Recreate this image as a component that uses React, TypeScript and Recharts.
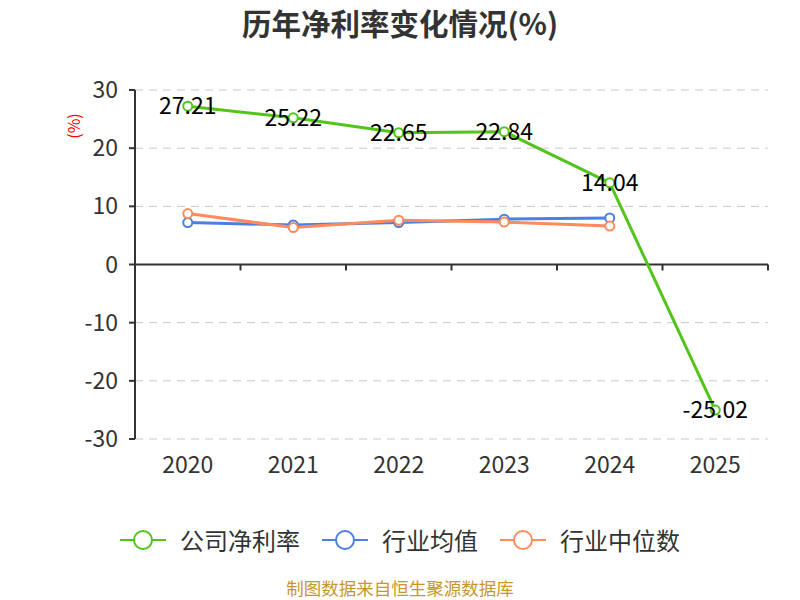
import React from 'react';
import {
  LineChart,
  Line,
  XAxis,
  YAxis,
  CartesianGrid,
  ReferenceLine,
  LabelList,
} from 'recharts';

const years = ['2020', '2021', '2022', '2023', '2024', '2025'];
const companyRate = [27.21, 25.22, 22.65, 22.84, 14.04, -25.02];
const industryAvg = [7.2, 6.8, 7.2, 7.8, 8.0, null];
const industryMedian = [8.75, 6.35, 7.6, 7.3, 6.6, null];
const yTicks = [-30, -20, -10, 0, 10, 20, 30];

const SERIES = [
  { key: 'company', name: '公司净利率', color: '#52c41a' },
  { key: 'avg', name: '行业均值', color: '#4b7fe0' },
  { key: 'median', name: '行业中位数', color: '#ff8a5b' },
];

const FONT = "'Noto Sans CJK SC', 'Noto Sans', sans-serif";

const data = years.map((year, i) => ({
  year,
  company: companyRate[i],
  avg: industryAvg[i],
  median: industryMedian[i],
}));

// zero line with tick marks between categories
function ZeroAxis(props: any) {
  const { x1, x2, y1 } = props;
  const n = years.length;
  const step = (x2 - x1) / n;
  const marks = [];
  for (let i = 0; i <= n; i++) {
    const x = x1 + step * i;
    marks.push(<line key={i} x1={x} x2={x} y1={y1} y2={y1 + 6} stroke="#333" strokeWidth={2} />);
  }
  return (
    <g>
      <line x1={x1} x2={x2} y1={y1} y2={y1} stroke="#333" strokeWidth={2} />
      {marks}
    </g>
  );
}

function ValueLabel(props: any) {
  const { x, y, width, value } = props;
  if (value == null) return null;
  const cx = x + (width || 0) / 2;
  return (
    <text x={cx} y={y} dy={8} textAnchor="middle" fontSize={23} fill="#000" fontFamily={FONT}>
      {value.toFixed(2)}
    </text>
  );
}

function LegendIcon({ color }: { color: string }) {
  return (
    <svg width={46} height={24} style={{ marginRight: 14 }}>
      <line x1={0} x2={46} y1={12} y2={12} stroke={color} strokeWidth={2} />
      <circle cx={23} cy={12} r={9} fill="#fff" stroke={color} strokeWidth={2} />
    </svg>
  );
}

export default function App() {
  return (
    <div style={{ position: 'absolute', left: 0, top: 0, width: 800, height: 600, background: '#fff', fontFamily: FONT }}>
      <div style={{ position: 'absolute', top: 1, width: 800, textAlign: 'center', fontSize: 29.5, fontWeight: 'bold', color: '#333' }}>
        历年净利率变化情况(%)
      </div>
      <div
        style={{
          position: 'absolute',
          left: 57,
          top: 114,
          width: 32,
          textAlign: 'center',
          fontSize: 16,
          color: 'red',
          transform: 'rotate(-90deg)',
        }}
      >
        (%)
      </div>
      <LineChart width={800} height={600} data={data} margin={{ top: 90, right: 32, left: 0, bottom: 121 }}>
        <CartesianGrid horizontal vertical={false} stroke="#c8c8c8" strokeDasharray="8 6" />
        <XAxis
          dataKey="year"
          scale="band"
          axisLine={false}
          tickLine={false}
          height={40}
          tickMargin={12}
          tick={{ fontSize: 23, fill: '#333', fontFamily: FONT }}
        />
        <YAxis
          width={135}
          domain={[-30, 30]}
          ticks={yTicks}
          interval={0}
          axisLine={{ stroke: '#333', strokeWidth: 2 }}
          tickLine={{ stroke: '#333', strokeWidth: 2 }}
          tickSize={6}
          tickMargin={11}
          tick={{ fontSize: 23, fill: '#333', fontFamily: FONT }}
        />
        <ReferenceLine y={0} shape={<ZeroAxis />} />
        <Line
          dataKey="avg"
          stroke={SERIES[1].color}
          strokeWidth={3}
          dot={{ r: 4.5, fill: '#fff', stroke: SERIES[1].color, strokeWidth: 2 }}
          isAnimationActive={false}
        />
        <Line
          dataKey="median"
          stroke={SERIES[2].color}
          strokeWidth={3}
          dot={{ r: 4.5, fill: '#fff', stroke: SERIES[2].color, strokeWidth: 2 }}
          isAnimationActive={false}
        />
        <Line
          dataKey="company"
          stroke={SERIES[0].color}
          strokeWidth={3}
          dot={{ r: 4.5, fill: '#fff', stroke: SERIES[0].color, strokeWidth: 2 }}
          isAnimationActive={false}
        >
          <LabelList dataKey="company" content={<ValueLabel />} />
        </Line>
      </LineChart>
      <div
        style={{
          position: 'absolute',
          top: 522,
          left: 0,
          width: 800,
          display: 'flex',
          justifyContent: 'center',
          alignItems: 'center',
          fontSize: 24,
          color: '#333',
        }}
      >
        {SERIES.map((s) => (
          <div key={s.key} style={{ display: 'flex', alignItems: 'center', margin: '0 11px' }}>
            <LegendIcon color={s.color} />
            <span>{s.name}</span>
          </div>
        ))}
      </div>
      <div
        style={{
          position: 'absolute',
          top: 578,
          width: 800,
          lineHeight: '20px',
          textAlign: 'center',
          fontSize: 17.5,
          color: '#c8962d',
        }}
      >
        制图数据来自恒生聚源数据库
      </div>
    </div>
  );
}
